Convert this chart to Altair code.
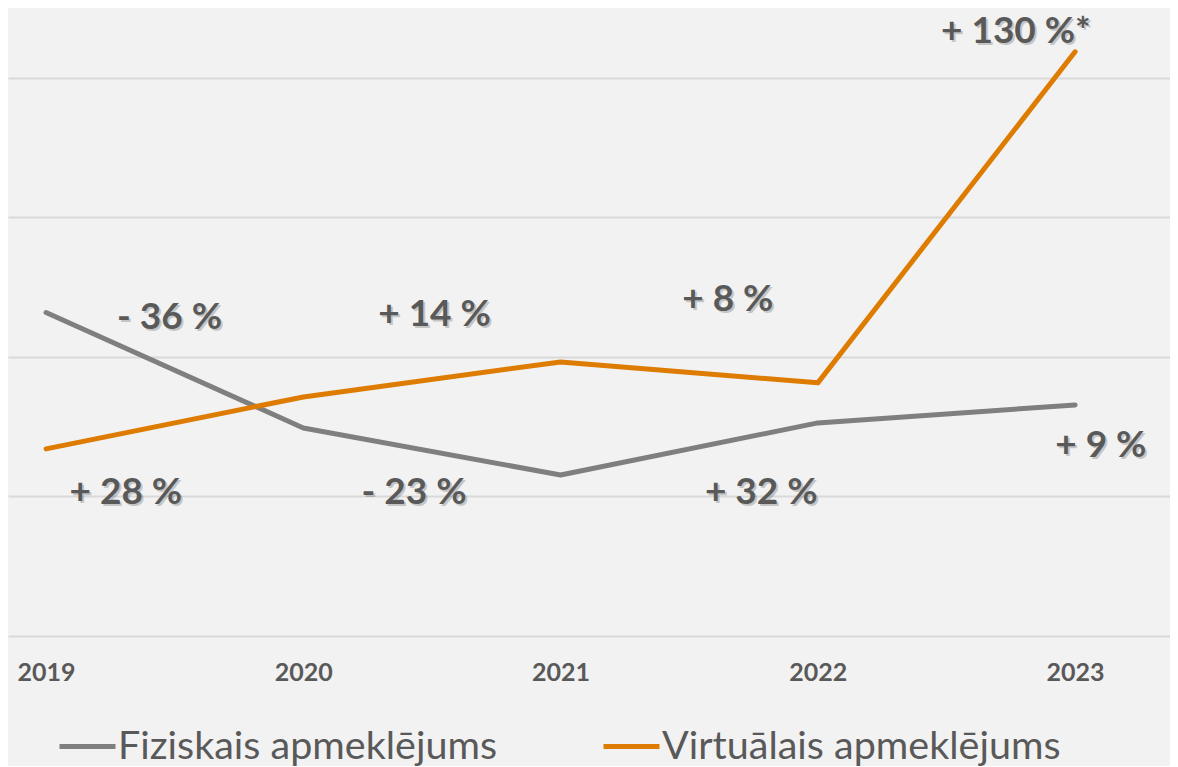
import altair as alt
import pandas as pd

years = [2019, 2020, 2021, 2022, 2023]
series_names = ["Fiziskais apmeklējums", "Virtuālais apmeklējums"]
fiziskais = [231.8, 149.1, 115.4, 152.7, 165.6]
virtualais = [134.1, 171.3, 196.4, 181.4, 418.6]

# annotation texts and their anchor points (fractional year, value)
ann_text = ["- 36 %", "+ 14 %", "+ 8 %", "+ 130 %*", "+ 28 %", "- 23 %", "+ 32 %", "+ 9 %"]
ann_x = [2019.48, 2020.51, 2021.65, 2022.77, 2019.31, 2020.43, 2021.78, 2023.10]
ann_y = [228, 230, 241, 433, 102.5, 102.5, 102.5, 136]

rows = []
for y, v in zip(years, fiziskais):
    rows.append({"year": y, "value": v, "series": series_names[0]})
for y, v in zip(years, virtualais):
    rows.append({"year": y, "value": v, "series": series_names[1]})
df = pd.DataFrame(rows)
ann = pd.DataFrame({"text": ann_text, "x": ann_x, "y": ann_y})

FONT = "Lato"
TXT = "#595959"

xscale = alt.Scale(domain=[2018.852, 2023.369], nice=False, zero=False)
yscale = alt.Scale(domain=[0, 450], nice=False, zero=True)

lines = alt.Chart(df).mark_line(strokeWidth=5, strokeCap="round", strokeJoin="round").encode(
    x=alt.X("year:Q", scale=xscale,
            axis=alt.Axis(values=years, format="d", title=None, grid=False, ticks=False,
                          domain=False, labelFont=FONT, labelFontSize=25, labelFontWeight="bold",
                          labelColor=TXT, labelPadding=36, labelBaseline="middle",
                          labelFlush=False, labelOverlap=False)),
    y=alt.Y("value:Q", scale=yscale,
            axis=alt.Axis(values=[0, 100, 200, 300, 400], title=None, labels=False, ticks=False,
                          domain=False, grid=True, gridColor="#d9d9d9", gridWidth=2)),
    color=alt.Color("series:N",
                    scale=alt.Scale(domain=series_names, range=["#7f7f7f", "#dd7c00"]),
                    legend=alt.Legend(title=None, orient="none", legendX=49, legendY=708,
                                      direction="horizontal", symbolType="stroke",
                                      symbolSize=3136, symbolStrokeWidth=5,
                                      labelFont=FONT, labelFontSize=39.5, labelColor=TXT,
                                      labelOffset=0, columnPadding=95, labelLimit=600)),
)

shadow = alt.Chart(ann).mark_text(font=FONT, fontSize=37, fontWeight="bold", color="#000000",
                                  opacity=0.18, dx=2, dy=2, baseline="middle").encode(
    x=alt.X("x:Q", scale=xscale), y=alt.Y("y:Q", scale=yscale), text="text:N")

labels = alt.Chart(ann).mark_text(font=FONT, fontSize=37, fontWeight="bold", color=TXT,
                                  baseline="middle").encode(
    x=alt.X("x:Q", scale=xscale), y=alt.Y("y:Q", scale=yscale), text="text:N")

chart = alt.layer(lines, shadow, labels).properties(
    width=1162, height=628, padding=0, background="#f2f2f2"
).configure_view(stroke=None)

chart.save("out.html", embed_options={"renderer": "svg", "actions": False})
